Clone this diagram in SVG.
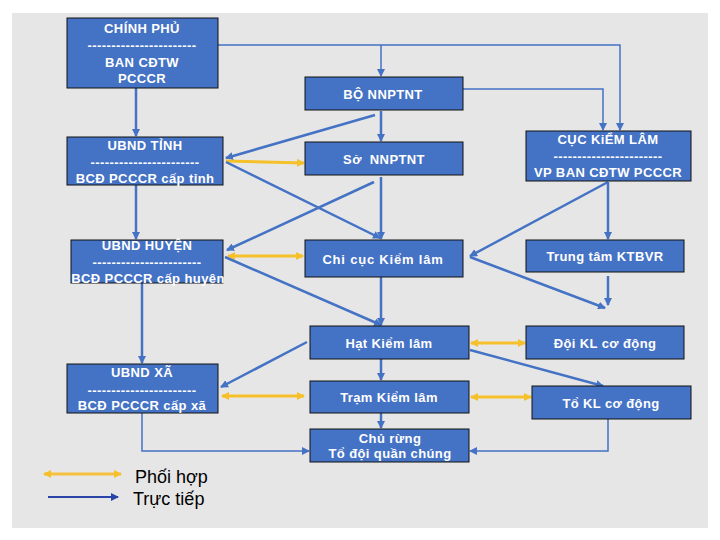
<svg xmlns="http://www.w3.org/2000/svg" width="720" height="540" viewBox="0 0 720 540">
<defs>
<style>
.box{fill:#4472c4;stroke:#111;stroke-width:1}
.t{font-family:"Liberation Sans",Arial,sans-serif;font-size:13px;font-weight:bold;fill:#fff;text-anchor:middle;letter-spacing:0.4px}
.c{fill:none;stroke:#4472c4;stroke-width:2.5;marker-end:url(#ab)}
.thin{stroke-width:1.5}
.y{fill:none;stroke:#f5c02a;stroke-width:3;marker-end:url(#ay)}
.yd{marker-start:url(#ay)}
.lg{font-family:"Liberation Sans",Arial,sans-serif;font-size:18px;fill:#000}
</style>
<marker id="ab" viewBox="0 0 8 8" refX="7" refY="4" markerWidth="8" markerHeight="8" markerUnits="userSpaceOnUse" orient="auto"><path d="M0,0 L8,4 L0,8 z" fill="#4472c4"/></marker>
<marker id="ay" viewBox="0 0 8 8" refX="7" refY="4" markerWidth="8" markerHeight="8" markerUnits="userSpaceOnUse" orient="auto-start-reverse"><path d="M0,0 L8,4 L0,8 z" fill="#f5c02a"/></marker>
<marker id="al" viewBox="0 0 8 8" refX="7" refY="4" markerWidth="8" markerHeight="8" markerUnits="userSpaceOnUse" orient="auto"><path d="M0,0 L8,4 L0,8 z" fill="#2a44a8"/></marker>
</defs>
<rect x="0" y="0" width="720" height="540" fill="#fff"/>
<rect x="12" y="13" width="696" height="515" fill="#e6e6e6"/>

<g id="connectors">
<path class="c" d="M136,88 V136"/>
<path class="c thin" d="M218,45 H620 V130"/>
<path class="c thin" d="M381,45 V76"/>
<path class="c thin" d="M463,89 H603 V130"/>
<path class="c" d="M381,111 V141"/>
<path class="c" d="M375,115 L226,158"/>
<path class="y" d="M226,161 L304,163"/>
<path class="c" d="M226,162 L380,238"/>
<path class="c" d="M374,182 L227,250"/>
<path class="c" d="M381,177 V239"/>
<path class="y yd" d="M228,256 L303,256"/>
<path class="c" d="M225,257 L381,325"/>
<path class="c" d="M381,277 V325"/>
<path class="c" d="M136,185 V239"/>
<path class="c" d="M142,283 V363"/>
<path class="c" d="M307,342 L221,387"/>
<path class="y yd" d="M222,396 L304,396"/>
<path class="c" d="M381,359 V380"/>
<path class="c" d="M381,413 V428"/>
<path class="c thin" d="M142,413 V451 H309"/>
<path class="c thin" d="M608,419 V451 H470"/>
<path class="y yd" d="M471,343 L525,343"/>
<path class="y yd" d="M471,397 L531,397"/>
<path class="c" d="M470,350 L603,386"/>
<path class="c" d="M608,182 L470,256"/>
<path class="c" d="M608,182 V239"/>
<path class="c" d="M470,257 L605,308"/>
<path class="c" d="M608,276 V305"/>
</g>

<g id="chinh-phu">
<rect class="box" x="67" y="18" width="151" height="70"/>
<text class="t" x="142" y="33">CHÍNH PHỦ</text>
<text class="t" x="142" y="50">-----------------------</text>
<text class="t" x="142" y="67">BAN CĐTW</text>
<text class="t" x="142" y="83">PCCCR</text>
</g>
<g id="bo-nnptnt">
<rect class="box" x="305" y="77" width="158" height="33"/>
<text class="t" x="383" y="99">BỘ NNPTNT</text>
</g>
<g id="cuc-kiem-lam">
<rect class="box" x="526" y="131" width="165" height="50"/>
<text class="t" x="608" y="144">CỤC KiỂM LÂM</text>
<text class="t" x="608" y="161">-----------------------</text>
<text class="t" x="608" y="177">VP BAN CĐTW PCCCR</text>
</g>
<g id="ubnd-tinh">
<rect class="box" x="67" y="137" width="156" height="48"/>
<text class="t" x="145" y="150">UBND TỈNH</text>
<text class="t" x="145" y="167">-----------------------</text>
<text class="t" x="145" y="183">BCĐ PCCCR cấp tỉnh</text>
</g>
<g id="so-nnptnt">
<rect class="box" x="305" y="142" width="158" height="33"/>
<text class="t" x="384" y="164" xml:space="preserve">Sở  NNPTNT</text>
</g>
<g id="ubnd-huyen">
<rect class="box" x="71" y="240" width="152" height="43"/>
<text class="t" x="147" y="250">UBND HUYỆN</text>
<text class="t" x="147" y="267">-----------------------</text>
<text class="t" x="148" y="283">BCĐ PCCCR cấp huyện</text>
</g>
<g id="chi-cuc">
<rect class="box" x="305" y="240" width="158" height="37"/>
<text class="t" x="383" y="264" style="letter-spacing:0.8px">Chi cục Kiểm lâm</text>
</g>
<g id="trung-tam">
<rect class="box" x="526" y="240" width="158" height="32"/>
<text class="t" x="605" y="261">Trung tâm KTBVR</text>
</g>
<g id="hat-kiem-lam">
<rect class="box" x="310" y="326" width="159" height="33"/>
<text class="t" x="389" y="348">Hạt Kiểm lâm</text>
</g>
<g id="doi-kl">
<rect class="box" x="526" y="326" width="158" height="33"/>
<text class="t" x="605" y="348">Đội KL cơ động</text>
</g>
<g id="ubnd-xa">
<rect class="box" x="67" y="364" width="151" height="49"/>
<text class="t" x="142" y="377">UBND XÃ</text>
<text class="t" x="142" y="395">-----------------------</text>
<text class="t" x="142" y="410">BCĐ PCCCR cấp xã</text>
</g>
<g id="tram-kiem-lam">
<rect class="box" x="310" y="381" width="159" height="32"/>
<text class="t" x="389" y="402">Trạm Kiểm lâm</text>
</g>
<g id="to-kl">
<rect class="box" x="532" y="386" width="159" height="33"/>
<text class="t" x="611" y="408">Tổ KL cơ động</text>
</g>
<g id="chu-rung">
<rect class="box" x="310" y="429" width="159" height="33"/>
<text class="t" x="390" y="443">Chủ rừng</text>
<text class="t" x="390" y="458">Tổ đội quần chúng</text>
</g>

<g id="legend">
<path d="M44,474 H121" fill="none" stroke="#f5c040" stroke-width="3" marker-start="url(#ay)" marker-end="url(#ay)"/>
<path d="M48,497 H118" fill="none" stroke="#2a44a8" stroke-width="2" marker-end="url(#al)"/>
<text class="lg" x="135" y="483">Phối hợp</text>
<text class="lg" x="133" y="505">Trực tiếp</text>
</g>
</svg>
